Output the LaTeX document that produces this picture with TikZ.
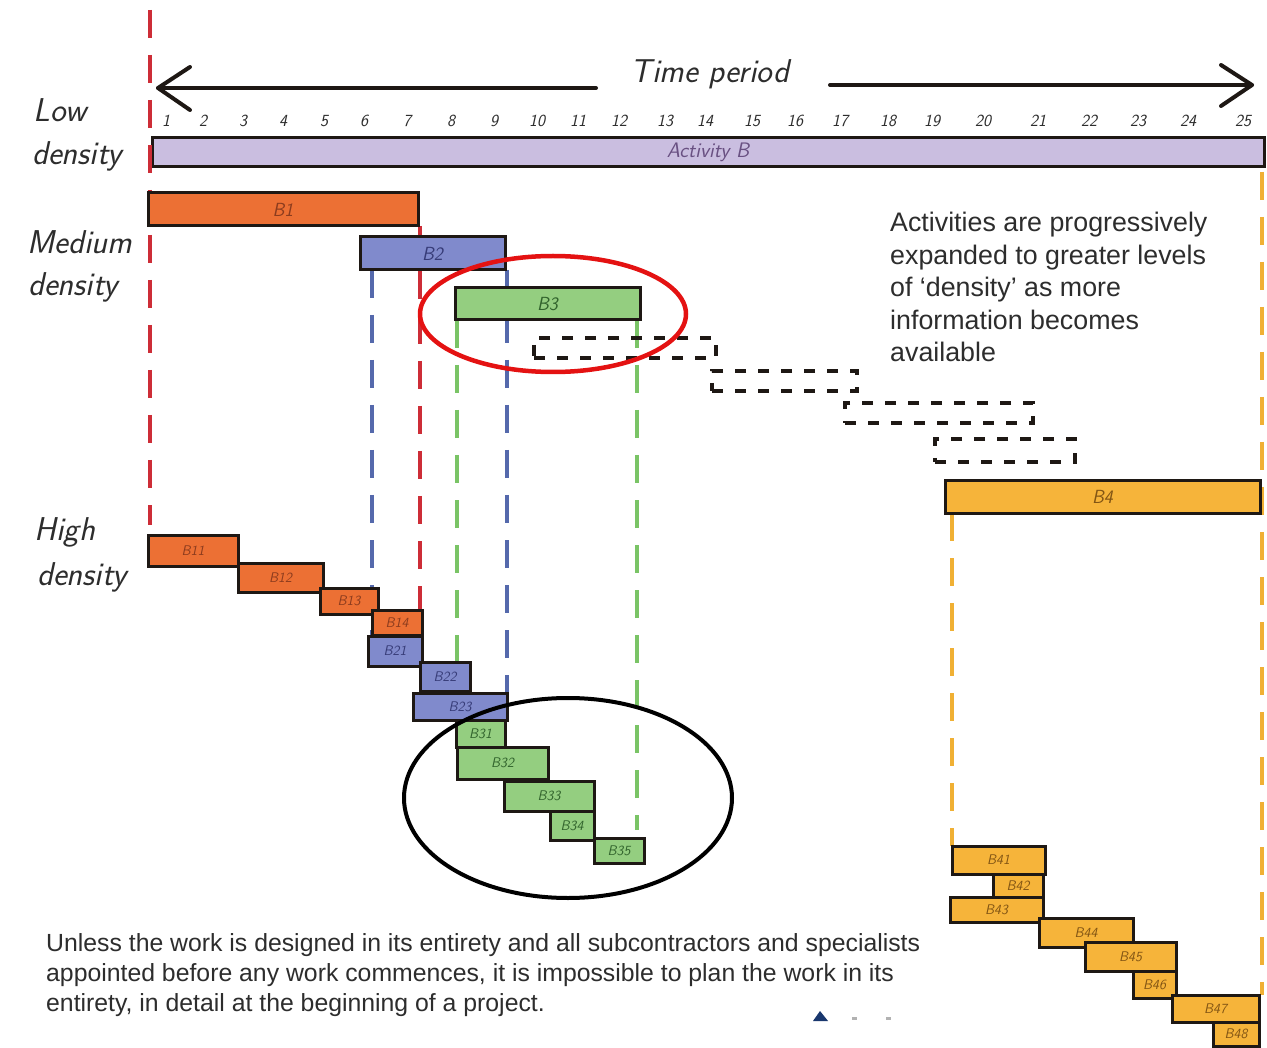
\documentclass[tikz,border=0pt]{standalone}
\usepackage{fontspec}
\setmainfont{Liberation Sans}
\newcommand\hw{\sffamily\slshape}

\definecolor{ink}{RGB}{45,45,45}
\definecolor{barline}{RGB}{30,24,20}
\definecolor{lilac}{RGB}{202,190,224}
\definecolor{lilacink}{RGB}{105,80,130}
\definecolor{bone}{RGB}{236,112,52}
\definecolor{boneink}{RGB}{140,60,30}
\definecolor{btwo}{RGB}{128,138,204}
\definecolor{btwoink}{RGB}{55,60,120}
\definecolor{bthree}{RGB}{148,206,128}
\definecolor{bthreeink}{RGB}{50,100,45}
\definecolor{bfour}{RGB}{246,180,58}
\definecolor{bfourink}{RGB}{130,85,20}
\definecolor{redguide}{RGB}{205,45,55}
\definecolor{blueguide}{RGB}{85,105,172}
\definecolor{greenguide}{RGB}{122,196,102}
\definecolor{orangeguide}{RGB}{240,176,52}
\definecolor{ringred}{RGB}{228,18,18}
\definecolor{markblue}{RGB}{25,55,110}

\tikzset{
  bar/.style={draw=barline, line width=3pt, rectangle, inner sep=0pt, outer sep=0pt,
    font={\hw\fontsize{19}{19}\selectfont}},
  subbar/.style={bar, font={\hw\fontsize{14}{14}\selectfont}},
  guide/.style={line width=3.5pt, dash pattern=on 28pt off 17pt},
  plan/.style={draw=barline, line width=4pt, dash pattern=on 11pt off 12pt},
  rowlabel/.style={font={\hw\fontsize{33}{33}\selectfont}, text=ink, inner sep=0pt},
  tick/.style={font={\hw\fontsize{17}{17}\selectfont}, text=ink, inner sep=0pt},
  timeline/.style={line width=4pt, draw=barline, line cap=round, line join=round},
  note/.style={text=ink, inner sep=0pt, align=left, anchor=north west},
}

% bar from (x1,y1) to (x2,y2), named #1, style #6, label #7
\newcommand\gbar[7]{\node[#6, minimum width={(#4-#2)*1pt}, minimum height={(#5-#3)*1pt}]
  (#1) at ({(#2+#4)/2},{(#3+#5)/2}) {#7};}

\begin{document}
\begin{tikzpicture}[x=1pt,y=-1pt]
\useasboundingbox[fill=white] (0,0) rectangle (1267,1048);

% ---- timeline header
\coordinate (aL) at (158,88);
\coordinate (aR) at (1252,85);
\node[font={\hw\fontsize{33}{33}\selectfont}, text=ink] (time) at (710,74) {Time period};
\coordinate (gapL) at (596,88);
\coordinate (gapR) at (830,85);
\draw[timeline] (gapL) -- (aL);
\draw[timeline] (190,67) -- (aL) -- (190,110);
\draw[timeline] (gapR) -- (aR);
\draw[timeline] (1221,65) -- (aR) -- (1221,106);

\foreach \n/\x in {1/166,2/203,3/243,4/283,5/324,6/364,7/407,8/451,9/494,10/537,
  11/578,12/619,13/665,14/705,15/752,16/795,17/840,18/888,19/932,20/983,21/1038,
  22/1089,23/1138,24/1188,25/1243}
  \node[tick] (t\n) at (\x,121) {\n};

% ---- row labels
\node[rowlabel] (low1) at (60,110) {Low};
\node[rowlabel] (low2) at (77,156) {density};
\node[rowlabel] (med1) at (80,242) {Medium};
\node[rowlabel] (med2) at (73,287) {density};
\node[rowlabel] (high1) at (65,532) {High};
\node[rowlabel] (high2) at (82,577) {density};

% ---- low density bar
\gbar{act}{152}{138}{1264}{167}{bar, fill=lilac, text=lilacink, font={\hw\fontsize{21}{21}\selectfont}}{Activity B}

% ---- start line
\coordinate (startTop) at (150,10);
\coordinate (startBot) at (150,525);

% ---- guide lines (behind the bars)
\draw[guide, redguide] (startTop) -- (startBot);
\coordinate (b1se) at (420,226);
\coordinate (b14ne) at (420,610);
\draw[guide, redguide] (b1se) -- (b14ne);
\draw[guide, blueguide] (372,270) -- (372,640);
\draw[guide, blueguide] (507,270) -- (507,693);
\draw[guide, greenguide] (457,320) -- (457,662);
\draw[guide, greenguide] (637,320) -- (637,830);
\draw[guide, orangeguide] (952,513) -- (952,846);
\draw[guide, orangeguide] (1262,172) -- (1262,995);

% ---- medium density bars
\gbar{b1}{148}{193}{418}{226}{bar, fill=bone, text=boneink}{B1}
\gbar{b2}{360}{237}{505}{270}{bar, fill=btwo, text=btwoink}{B2}
\gbar{b3}{455}{288}{640}{320}{bar, fill=bthree, text=bthreeink}{B3}
\gbar{b4}{945}{481}{1260}{513}{bar, fill=bfour, text=bfourink}{B4}

% ---- tentative (unplanned) work packages
\gbar{p1}{534}{338}{716}{358}{plan}{}
\gbar{p2}{712}{371}{857}{391}{plan}{}
\gbar{p3}{845}{403}{1033}{423}{plan}{}
\gbar{p4}{935}{439}{1075}{462}{plan}{}

% ---- high density bars
\gbar{b11}{148}{535}{238}{566}{subbar, fill=bone, text=boneink}{B11}
\gbar{b12}{238}{563}{323}{592}{subbar, fill=bone, text=boneink}{B12}
\gbar{b13}{320}{588}{378}{614}{subbar, fill=bone, text=boneink}{B13}
\gbar{b14}{372}{610}{422}{635}{subbar, fill=bone, text=boneink}{B14}
\gbar{b21}{368}{636}{422}{666}{subbar, fill=btwo, text=btwoink}{B21}
\gbar{b22}{420}{662}{470}{691}{subbar, fill=btwo, text=btwoink}{B22}
\gbar{b23}{413}{693}{507}{720}{subbar, fill=btwo, text=btwoink}{B23}
\gbar{b31}{456}{720}{505}{747}{subbar, fill=bthree, text=bthreeink}{B31}
\gbar{b32}{457}{747}{548}{779}{subbar, fill=bthree, text=bthreeink}{B32}
\gbar{b33}{504}{781}{594}{811}{subbar, fill=bthree, text=bthreeink}{B33}
\gbar{b34}{550}{811}{594}{840}{subbar, fill=bthree, text=bthreeink}{B34}
\gbar{b35}{594}{838}{644}{863}{subbar, fill=bthree, text=bthreeink}{B35}
\gbar{b41}{952}{846}{1045}{874}{subbar, fill=bfour, text=bfourink}{B41}
\gbar{b42}{993}{874}{1043}{897}{subbar, fill=bfour, text=bfourink}{B42}
\gbar{b43}{950}{897}{1043}{922}{subbar, fill=bfour, text=bfourink}{B43}
\gbar{b44}{1039}{918}{1133}{947}{subbar, fill=bfour, text=bfourink}{B44}
\gbar{b45}{1085}{942}{1176}{971}{subbar, fill=bfour, text=bfourink}{B45}
\gbar{b46}{1133}{971}{1176}{998}{subbar, fill=bfour, text=bfourink}{B46}
\gbar{b47}{1172}{995}{1259}{1022}{subbar, fill=bfour, text=bfourink}{B47}
\gbar{b48}{1213}{1022}{1259}{1046}{subbar, fill=bfour, text=bfourink}{B48}

% ---- highlight rings
\draw[ringred, line width=4.5pt] (553,314) ellipse [x radius=133, y radius=58];
\draw[black, line width=4pt] (568,798) ellipse [x radius=164, y radius=100];

% ---- notes
\node[note, font={\fontsize{26.8}{32.5}\selectfont}] (noteR) at (890,212)
  {Activities are progressively\\expanded to greater levels\\of `density' as more\\information becomes\\available};
\node[note, font={\fontsize{24.8}{30}\selectfont}] (noteB) at (46,933)
  {Unless the work is designed in its entirety and all subcontractors and specialists\\
   appointed before any work commences, it is impossible to plan the work in its\\
   entirety, in detail at the beginning of a project.};

% ---- small mark at the bottom edge
\fill[markblue] (813,1021) -- (820,1011) -- (828,1021) -- cycle;
\fill[gray!60] (852,1017) rectangle (857,1020);
\fill[gray!60] (886,1017) rectangle (891,1020);
\end{tikzpicture}
\end{document}
